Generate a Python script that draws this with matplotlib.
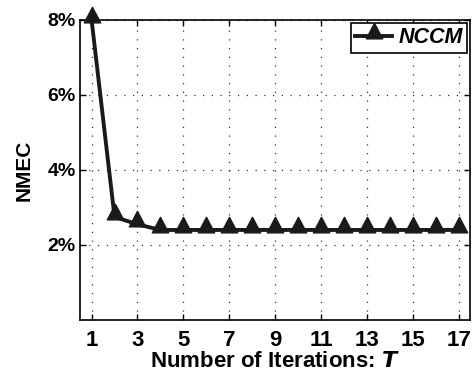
import matplotlib
matplotlib.use("Agg")
import matplotlib.pyplot as plt
from matplotlib.path import Path

plt.rcParams['font.family'] = ['Liberation Sans', 'DejaVu Sans']
plt.rcParams['font.weight'] = 'bold'

# NMEC (%) per iteration count
iterations = list(range(1, 18))
nmec = [8.0, 2.75, 2.55, 2.4, 2.4, 2.4, 2.4, 2.4, 2.4, 2.4, 2.4, 2.4, 2.4, 2.4, 2.4, 2.4, 2.4]
x_ticks = [1, 3, 5, 7, 9, 11, 13, 15, 17]
y_ticks = [2, 4, 6, 8]
y_ticklabels = ['2%', '4%', '6%', '8%']

# triangle whose base sits just under the data point
tri = Path([(-0.62, -0.18), (0.62, -0.18), (0.0, 1.0), (-0.62, -0.18)],
           [Path.MOVETO, Path.LINETO, Path.LINETO, Path.CLOSEPOLY])

fig = plt.figure(figsize=(4.74, 3.76), dpi=100)
ax = fig.add_axes([0.169, 0.149, 0.823, 0.798])

ax.plot(iterations, nmec, color='#1a1a1a', lw=2.8, marker=tri, ms=19,
        mfc='#1a1a1a', mec='#1a1a1a', label='NCCM', clip_on=False, zorder=3)

ax.set_xlim(0.5, 17.5)
ax.set_ylim(0, 8)
ax.set_xticks(x_ticks)
ax.set_yticks(y_ticks)
ax.set_yticklabels(y_ticklabels)
ax.tick_params(direction='in', length=4, width=1, top=True, right=True,
               labelsize=14, pad=3)
ax.tick_params(axis='x', labelsize=16, pad=7)

ax.grid(True, color='#333333', linestyle=(0, (1, 6)), lw=0.9)
for s in ax.spines.values():
    s.set_linewidth(1.2)

ax.set_xlabel('Number of Iterations: $\\mathbf{\\it{T}}$', fontsize=16,
              fontweight='bold', labelpad=0)
ax.set_ylabel('NMEC', fontsize=15, fontweight='bold', labelpad=10)

leg = ax.legend(loc='upper right', frameon=True, fancybox=False,
                edgecolor='black', framealpha=1, borderpad=0.2,
                handlelength=1.7, handletextpad=0.3, borderaxespad=0.15,
                prop={'size': 15.5, 'weight': 'bold', 'style': 'italic'})
leg.get_frame().set_linewidth(1.2)

fig.savefig('out.png', dpi=100)
